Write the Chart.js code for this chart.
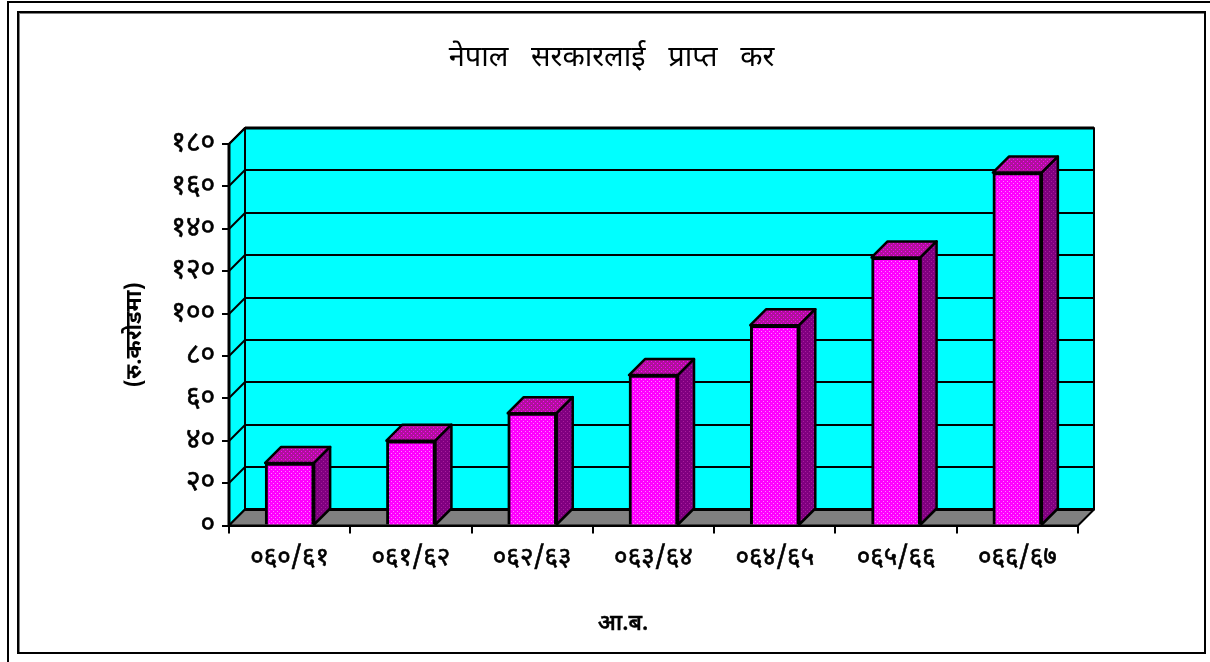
<!DOCTYPE html>
<html>
<head>
<meta charset="utf-8">
<title>नेपाल सरकारलाई प्राप्त कर</title>
<script src="https://cdn.jsdelivr.net/npm/chart.js@4/dist/chart.umd.min.js"></script>
<style>
  html, body { margin: 0; padding: 0; background: #fff; overflow: hidden; }
  #outer { position: absolute; left: 7px; top: 1px; width: 1210px; height: 670px; border: 2px solid #000; }
  #frame { position: absolute; left: 17px; top: 11px; width: 1185px; height: 639px; border: 2px solid #000; box-shadow: inset 1px 1px 0 #808080; }
  canvas { display: block; }
</style>
</head>
<body>
<div id="outer"></div>
<div id="frame"><canvas id="chart" width="1185" height="639"></canvas></div>
<script>
const chartTitle = 'नेपाल   सरकारलाई   प्राप्त   कर';
const xAxisTitle = 'आ.ब.';
const yAxisTitle = '(रु.करोडमा)';
const categories = ['०६०/६१', '०६१/६२', '०६२/६३', '०६३/६४', '०६४/६५', '०६५/६६', '०६६/६७'];
const values = [29.5, 40, 53, 71, 94.5, 126.5, 166.5];
const yTickLabels = ['०', '२०', '४०', '६०', '८०', '१००', '१२०', '१४०', '१६०', '१८०'];

const FONT = "'Noto Sans Devanagari', 'Noto Sans', 'DejaVu Sans', sans-serif";
const DEPTH = 16; // 3d offset of the back wall

// small dither tile, same look as the old excel fill
function dither(base, dot) {
  const c = document.createElement('canvas');
  c.width = 4;
  c.height = 4;
  const g = c.getContext('2d');
  g.fillStyle = base;
  g.fillRect(0, 0, 4, 4);
  g.fillStyle = dot;
  g.fillRect(0, 0, 1, 1);
  g.fillRect(2, 2, 1, 1);
  return g.createPattern(c, 'repeat');
}

const ctx = document.getElementById('chart').getContext('2d');
const frontFill = dither('#ff00ff', '#ff80ff');
const topFill = dither('#b0109c', '#ff00ff');
const sideFill = dither('#800080', '#a8209c');

function poly(g, pts, fill) {
  g.beginPath();
  pts.forEach((p, i) => (i ? g.lineTo(p[0], p[1]) : g.moveTo(p[0], p[1])));
  g.closePath();
  if (fill) {
    g.fillStyle = fill;
    g.fill();
  }
  g.stroke();
}

function line(g, x1, y1, x2, y2) {
  g.beginPath();
  g.moveTo(x1, y1);
  g.lineTo(x2, y2);
  g.stroke();
}

// back wall, side wall, floor
const wallsPlugin = {
  id: 'walls',
  afterLayout(chart) {
    // title centred on the whole frame, not on the area left of the right padding
    chart.titleBlock.left = 0;
    chart.titleBlock.right = chart.width;
  },
  beforeDatasetsDraw(chart) {
    const g = chart.ctx;
    const { left, right, top, bottom } = chart.chartArea;
    const yScale = chart.scales.y;
    g.save();
    g.strokeStyle = '#000';
    g.lineWidth = 2;
    g.lineJoin = 'round';
    poly(g, [[left + DEPTH, top - DEPTH], [right + DEPTH, top - DEPTH], [right + DEPTH, bottom - DEPTH], [left + DEPTH, bottom - DEPTH]], '#00ffff');
    poly(g, [[left, top], [left + DEPTH, top - DEPTH], [left + DEPTH, bottom - DEPTH], [left, bottom]], '#00ffff');
    poly(g, [[left, bottom], [left + DEPTH, bottom - DEPTH], [right + DEPTH, bottom - DEPTH], [right, bottom]], '#808080');
    yScale.ticks.forEach(t => {
      if (t.value === 0) return;
      const y = Math.round(yScale.getPixelForValue(t.value));
      line(g, left, y, left + DEPTH, y - DEPTH);
      line(g, left + DEPTH, y - DEPTH, right + DEPTH, y - DEPTH);
    });
    g.lineWidth = 3;
    line(g, left + DEPTH, top - DEPTH, right + DEPTH, top - DEPTH);
    line(g, left + DEPTH, bottom - DEPTH, right + DEPTH, bottom - DEPTH);
    line(g, left, top, left, bottom);
    g.restore();
  },
  afterDatasetsDraw(chart) {
    const g = chart.ctx;
    g.save();
    g.strokeStyle = '#000';
    g.lineWidth = 2.5;
    g.lineJoin = 'round';
    chart.getDatasetMeta(0).data.forEach(bar => {
      const l = bar.x - bar.width / 2;
      const r = bar.x + bar.width / 2;
      poly(g, [[l, bar.y], [l + DEPTH, bar.y - DEPTH], [r + DEPTH, bar.y - DEPTH], [r, bar.y]], topFill);
      poly(g, [[r, bar.y], [r + DEPTH, bar.y - DEPTH], [r + DEPTH, bar.base - DEPTH], [r, bar.base]], sideFill);
    });
    g.restore();
  },
  afterDraw(chart) {
    // axis title sits off centre in the original, so it is placed by hand
    const g = chart.ctx;
    g.save();
    g.fillStyle = '#000';
    g.font = '500 23px ' + FONT;
    g.textAlign = 'center';
    g.textBaseline = 'middle';
    g.strokeStyle = '#000';
    g.lineWidth = 0.5;
    g.strokeText(xAxisTitle, 604, 613);
    g.fillText(xAxisTitle, 604, 613);
    g.restore();
  }
};

new Chart(ctx, {
  type: 'bar',
  data: {
    labels: categories,
    datasets: [{
      data: values,
      backgroundColor: frontFill,
      borderColor: '#000',
      borderWidth: 3,
      barThickness: 49
    }]
  },
  plugins: [wallsPlugin],
  options: {
    responsive: false,
    animation: false,
    layout: { padding: { left: 0, right: 126, top: 0, bottom: 0 } },
    plugins: {
      legend: { display: false },
      tooltip: { enabled: false },
      title: {
        display: true,
        text: chartTitle,
        color: '#000',
        font: { family: FONT, size: 29, weight: 'normal', lineHeight: 1.2 },
        padding: { top: 30, bottom: 66.2 }
      }
    },
    scales: {
      x: {
        afterFit(scale) { scale.height = 126.5; },
        grid: { display: true, drawOnChartArea: false, color: '#000', lineWidth: 2, tickLength: 8, offset: true },
        border: { display: true, color: '#000', width: 3 },
        ticks: {
          color: '#000',
          font: { family: FONT, size: 26, weight: 'normal' },
          textStrokeColor: '#000',
          textStrokeWidth: 0.6,
          padding: 11,
          maxRotation: 0,
          autoSkip: false
        }
      },
      y: {
        min: 0,
        max: 180,
        afterFit(scale) { scale.width = 210; },
        grid: { display: true, drawOnChartArea: false, color: '#000', lineWidth: 2, tickLength: 7 },
        border: { display: true, color: '#000', width: 3 },
        ticks: {
          stepSize: 20,
          color: '#000',
          padding: 7,
          labelOffset: 2,
          font: { family: FONT, size: 28, weight: 'normal' },
          textStrokeColor: '#000',
          textStrokeWidth: 0.6,
          callback: (v) => yTickLabels[v / 20]
        },
        title: {
          display: true,
          text: yAxisTitle,
          color: '#000',
          font: { family: FONT, size: 22, weight: 'bold' },
          padding: { top: 105, bottom: 0 }
        }
      }
    }
  }
});
</script>
</body>
</html>
